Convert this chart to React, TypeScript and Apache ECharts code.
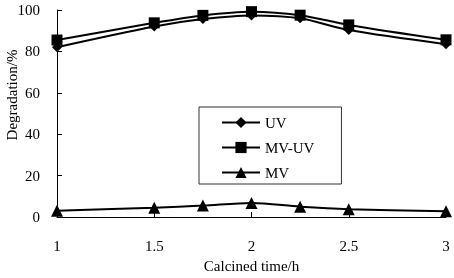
import React, { useEffect, useRef } from "react";
import * as echarts from "echarts";

const times = [1, 1.5, 1.75, 2, 2.25, 2.5, 3];
const uv = [82, 92, 95.6, 97.4, 96, 90.3, 83.5];
const mvuv = [85.5, 93.8, 97.4, 99.2, 97.5, 92.8, 85.6];
const mv = [3, 4.5, 5.5, 6.8, 5, 3.8, 2.8];
const seriesNames = ["UV", "MV-UV", "MV"];
const xTicks = ["1", "1.5", "2", "2.5", "3"];

const FONT = "'Liberation Serif', 'Times New Roman', serif";

export default function App() {
  const ref = useRef<HTMLDivElement>(null);
  useEffect(() => {
    const chart = echarts.init(ref.current!, null, { renderer: "svg" });
    const mk = (vals: number[]) => times.map((t, i) => [t, vals[i]]);
    const common = {
      type: "line" as const,
      smooth: 0.3,
      lineStyle: { color: "#000", width: 2 },
      itemStyle: { color: "#000" },
      emphasis: { disabled: true },
    };
    chart.setOption({
      animation: false,
      textStyle: { fontFamily: FONT },
      grid: { left: 57, right: 8, top: 10, bottom: 61, containLabel: false },
      xAxis: {
        type: "value",
        min: 1,
        max: 3,
        interval: 0.5,
        name: "Calcined time/h",
        nameLocation: "middle",
        nameGap: 41,
        nameTextStyle: { color: "#000", fontSize: 15, fontFamily: FONT },
        axisLine: { lineStyle: { color: "#000", width: 1 } },
        axisTick: { inside: true, length: 5, lineStyle: { color: "#000" } },
        axisLabel: {
          color: "#000",
          fontSize: 15,
          fontFamily: FONT,
          margin: 21,
          formatter: (v: number) => {
            const s = String(v);
            return xTicks.includes(s) ? s : "";
          },
        },
        splitLine: { show: false },
      },
      yAxis: {
        type: "value",
        min: 0,
        max: 100,
        interval: 20,
        axisLine: { show: true, lineStyle: { color: "#000", width: 1 } },
        axisTick: { show: true, inside: true, length: 5, lineStyle: { color: "#000" } },
        axisLabel: { color: "#000", fontSize: 15, fontFamily: FONT, margin: 17 },
        splitLine: { show: false },
      },
      legend: {
        orient: "vertical",
        left: 199,
        top: 107,
        data: seriesNames,
        itemWidth: 38,
        itemHeight: 14,
        itemGap: 10,
        padding: [8, 27, 4, 22],
        borderColor: "#333",
        borderWidth: 1,
        textStyle: { color: "#000", fontSize: 15, fontFamily: FONT },
      },
      graphic: [
        {
          type: "text",
          x: 12,
          y: 95,
          rotation: Math.PI / 2,
          style: {
            text: "Degradation/%",
            font: `15px ${FONT}`,
            fill: "#000",
            align: "center",
            verticalAlign: "middle",
          },
        },
      ],
      series: [
        { ...common, name: "UV", data: mk(uv), symbol: "diamond", symbolSize: 10 },
        { ...common, name: "MV-UV", data: mk(mvuv), symbol: "rect", symbolSize: 11 },
        { ...common, name: "MV", data: mk(mv), symbol: "triangle", symbolSize: 12 },
      ],
    });
    return () => chart.dispose();
  }, []);
  return (
    <div
      ref={ref}
      style={{ position: "fixed", left: 0, top: 0, width: 454, height: 278 }}
    />
  );
}
